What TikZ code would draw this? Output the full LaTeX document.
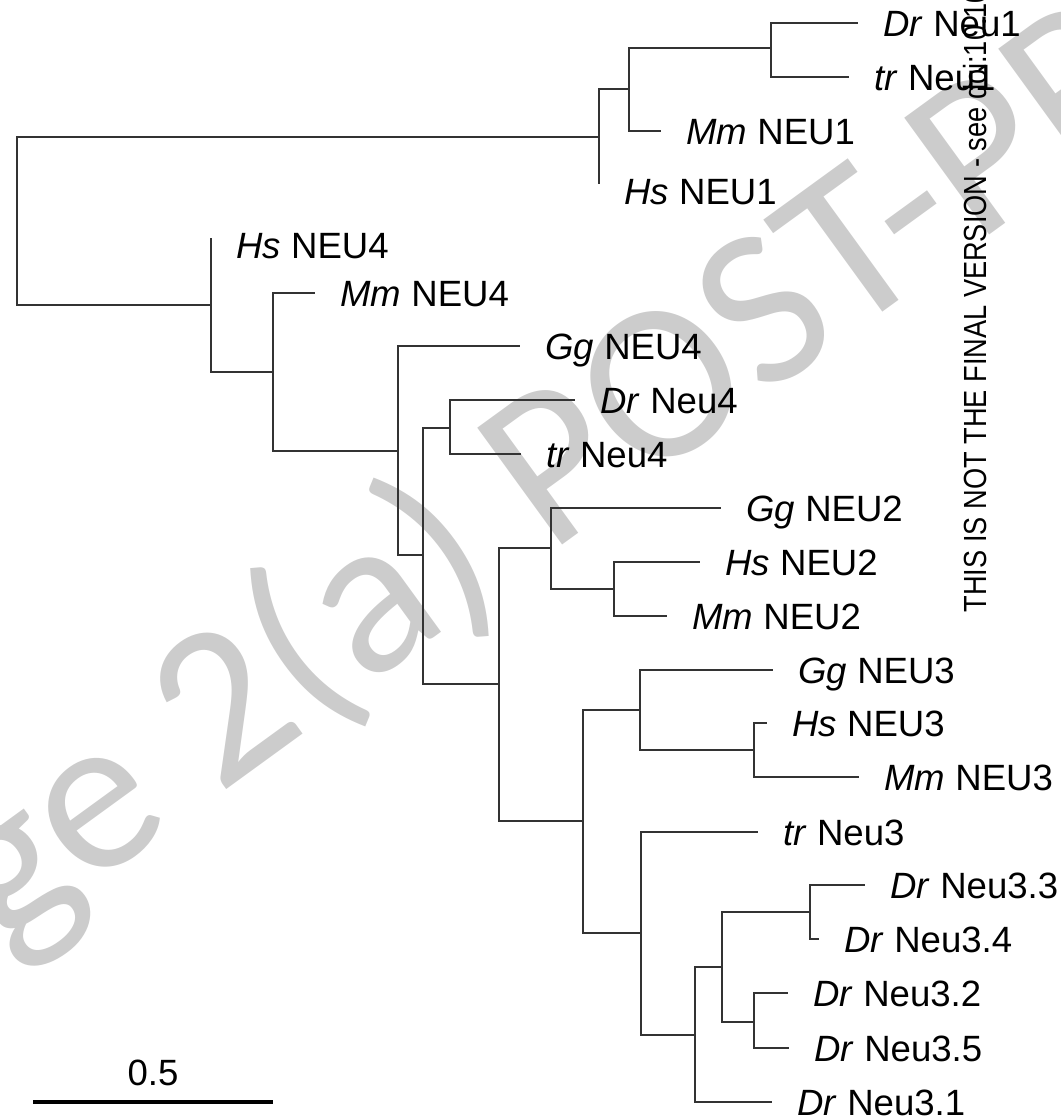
\documentclass[tikz,border=0pt]{standalone}
\usepackage{fontspec}
\setmainfont{Liberation Sans}
\newfontfamily\wmfont{Carlito}
\usepackage{graphicx}
\tikzset{
    branch/.style={line width=0.7pt, black!80},
    leaf/.style={anchor=base west, inner sep=0pt, font=\fontsize{10.4}{12}\selectfont, xshift=7pt, yshift=-3.7pt},
    scalebar/.style={line width=1.2pt, black},
    watermark/.style={rotate=36, inner sep=0pt, text=black!20, font=\wmfont\fontsize{64}{70}\selectfont},
    note/.style={rotate=90, anchor=west, inner sep=0pt, font=\fontsize{9.1}{11}\selectfont}
}
\begin{document}
\begin{tikzpicture}[x=0.01cm, y=-0.01cm]
    % Рамка
    \path[use as bounding box, clip] (0,0) rectangle (1061,1117);

    % Водяной знак
    \node[watermark] (wm) at (586,450) {Page 2(a) POST-PRINT};

    % Внутренние узлы
    \coordinate (R) at (17,221);
    \coordinate (A) at (599,137);
    \coordinate (A1) at (629,89);
    \coordinate (A2) at (771,48);
    \coordinate (B) at (211,305);
    \coordinate (B1) at (273,372);
    \coordinate (B2) at (398,451);
    \coordinate (B3) at (423,555);
    \coordinate (B4) at (450,428);
    \coordinate (C) at (499,684);
    \coordinate (C1) at (551,548);
    \coordinate (C2) at (614,589);
    \coordinate (D) at (583,821);
    \coordinate (D1) at (640,710);
    \coordinate (D2) at (754,750);
    \coordinate (E) at (641,933);
    \coordinate (E1) at (695,1035);
    \coordinate (E2) at (722,967);
    \coordinate (E3) at (810,912);
    \coordinate (E4) at (754,1022);

    % Концы ветвей
    \coordinate (DrNeu1) at (858,23);
    \coordinate (trNeu1) at (849,77);
    \coordinate (MmNEU1) at (661,131);
    \coordinate (HsNEU1) at (599,184);
    \coordinate (HsNEU4) at (211,238);
    \coordinate (MmNEU4) at (315,293);
    \coordinate (GgNEU4) at (520,346);
    \coordinate (DrNeu4) at (575,400);
    \coordinate (trNeu4) at (521,454);
    \coordinate (GgNEU2) at (721,508);
    \coordinate (HsNEU2) at (700,562);
    \coordinate (MmNEU2) at (667,616);
    \coordinate (GgNEU3) at (773,670);
    \coordinate (HsNEU3) at (767,723);
    \coordinate (MmNEU3) at (859,777);
    \coordinate (trNeu3) at (758,832);
    \coordinate (DrNeu33) at (865,885);
    \coordinate (DrNeu34) at (819,939);
    \coordinate (DrNeu32) at (788,993);
    \coordinate (DrNeu35) at (789,1048);
    \coordinate (DrNeu31) at (772,1102);

    % Ветви
    \foreach \p/\c in {R/A, R/B, A/A1, A/HsNEU1, A1/A2, A1/MmNEU1, A2/DrNeu1, A2/trNeu1,
        B/HsNEU4, B/B1, B1/MmNEU4, B1/B2, B2/GgNEU4, B2/B3, B3/B4, B3/C, B4/DrNeu4, B4/trNeu4,
        C/C1, C/D, C1/GgNEU2, C1/C2, C2/HsNEU2, C2/MmNEU2,
        D/D1, D/E, D1/GgNEU3, D1/D2, D2/HsNEU3, D2/MmNEU3,
        E/trNeu3, E/E1, E1/E2, E1/DrNeu31, E2/E3, E2/E4, E3/DrNeu33, E3/DrNeu34, E4/DrNeu32, E4/DrNeu35}
        \draw[branch] (\p) |- (\c);

    % Подписи листьев
    \foreach \t/\g/\n in {DrNeu1/Dr/Neu1, trNeu1/tr/Neu1, MmNEU1/Mm/NEU1, MmNEU4/Mm/NEU4,
        GgNEU4/Gg/NEU4, DrNeu4/Dr/Neu4, trNeu4/tr/Neu4, GgNEU2/Gg/NEU2, HsNEU2/Hs/NEU2,
        MmNEU2/Mm/NEU2, GgNEU3/Gg/NEU3, HsNEU3/Hs/NEU3, MmNEU3/Mm/NEU3, trNeu3/tr/Neu3,
        DrNeu33/Dr/Neu3.3, DrNeu34/Dr/Neu3.4, DrNeu32/Dr/Neu3.2, DrNeu35/Dr/Neu3.5, DrNeu31/Dr/Neu3.1}
        \node[leaf] (l\t) at (\t) {\textit{\g} \n};
    \node[leaf, yshift=-2pt] (lHsNEU1) at (HsNEU1) {\textit{Hs} NEU1};
    \node[leaf, yshift=-2pt] (lHsNEU4) at (HsNEU4) {\textit{Hs} NEU4};

    % Масштаб
    \coordinate (S0) at (33,1102);
    \coordinate (S1) at (273,1102);
    \draw[scalebar] (S0) -- (S1) node[midway, anchor=base, yshift=4.8pt, font=\fontsize{10.4}{12}\selectfont] (sl) {0.5};

    % Пометка на полях
    \node[note] (nt) at (975,613) {\scalebox{0.85}[1]{THIS IS NOT THE FINAL VERSION - see doi:10.100}};
\end{tikzpicture}
\end{document}
